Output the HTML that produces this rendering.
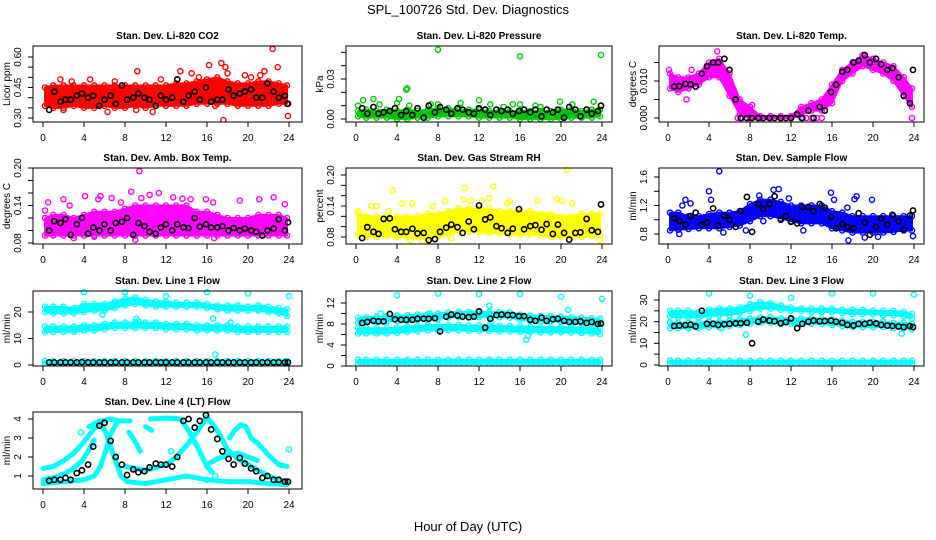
<!DOCTYPE html>
<html><head><meta charset="utf-8">
<style>
html,body{margin:0;padding:0;background:#fff;}
svg{display:block;font-family:"Liberation Sans",Arial,sans-serif;}
</style></head>
<body>
<svg id="chart" width="936" height="540" viewBox="0 0 936 540" xmlns="http://www.w3.org/2000/svg">
<defs id="defs"></defs>
<text x="468" y="14" text-anchor="middle" font-size="13">SPL_100726  Std. Dev. Diagnostics</text>
<text x="468" y="531" text-anchor="middle" font-size="13">Hour of Day (UTC)</text>
</svg>
<script>
// ---- shared data ----
const bandHours = [0.2,1,2,3,4,5,6,7,8,9,10,11,12,13,14,15,16,17,18,19,20,21,22,23,23.8];
const blackHours = [0.6,1.1,1.7,2.2,2.7,3.3,3.8,4.4,4.9,5.5,6.0,6.6,7.1,7.7,8.2,8.8,9.3,9.9,10.4,11.0,11.5,12.0,12.6,13.1,13.7,14.2,14.8,15.3,15.9,16.4,17.0,17.5,18.1,18.6,19.2,19.7,20.3,20.8,21.4,21.9,22.5,23.0,23.6,23.9];
const xTicks = [0,4,8,12,16,20,24];

// CO2
const co2Lo = [0.36,0.35,0.35,0.36,0.35,0.35,0.36,0.35,0.35,0.36,0.35,0.36,0.36,0.36,0.36,0.37,0.37,0.37,0.37,0.36,0.36,0.36,0.36,0.37,0.37];
const co2Hi = [0.45,0.46,0.46,0.46,0.46,0.46,0.46,0.46,0.46,0.46,0.46,0.46,0.46,0.47,0.47,0.48,0.49,0.50,0.48,0.47,0.47,0.48,0.48,0.47,0.46];
const co2Pts = [[0.5,0.38],[1.7,0.49],[2.8,0.48],[4.6,0.49],[6.3,0.33],[7.0,0.48],[9.2,0.53],[9.1,0.34],[11.5,0.49],[13.4,0.53],[14.5,0.52],[15.2,0.50],[16.2,0.56],[17.4,0.57],[17.6,0.29],[17.8,0.55],[18.0,0.52],[19.7,0.51],[20.3,0.50],[21.2,0.51],[21.6,0.53],[22.4,0.64],[22.9,0.55],[23.9,0.31],[16.8,0.36],[10.7,0.33],[2.0,0.34]];
const co2Black = [0.34,0.43,0.38,0.39,0.39,0.41,0.42,0.40,0.41,0.36,0.39,0.41,0.37,0.46,0.39,0.40,0.42,0.40,0.39,0.36,0.41,0.39,0.40,0.49,0.38,0.41,0.43,0.39,0.45,0.38,0.39,0.39,0.44,0.41,0.42,0.43,0.44,0.40,0.40,0.47,0.43,0.40,0.41,0.37];
const co2YTicks = [0.30,0.35,0.40,0.45,0.50,0.55,0.60];
const co2YLabels = ["0.30","","","0.45","","","0.60"];

// Pressure
const presLo = [0.002,0.001,0.001,0.001,0,0,0.001,0.001,0.002,0.002,0.002,0.002,0.001,0.001,0.001,0.001,0,0,0,0,0,0.001,0.001,0.001,0.002];
const presHi = [0.006,0.007,0.006,0.007,0.006,0.007,0.006,0.007,0.008,0.008,0.007,0.007,0.007,0.006,0.006,0.006,0.006,0.006,0.006,0.006,0.007,0.007,0.006,0.007,0.007];
const presPts = [[0.2,0.010],[0.7,0.014],[1.7,0.015],[2.3,0.011],[4.0,0.012],[4.2,0.015],[4.9,0.022],[5.0,0.023],[5.2,0.010],[7.3,0.011],[8.0,0.052],[8.0,0.011],[10.2,0.012],[12.0,0.014],[13.1,0.011],[14.4,0.009],[15.3,0.011],[16.0,0.047],[16.0,0.011],[17.5,0.010],[18.0,0.009],[19.9,0.013],[21.1,0.011],[23.2,0.013],[23.9,0.048]];
const presBlack = [0.008,0.004,0.009,0.004,0.005,0.006,0.008,0.003,0.006,0.003,0.008,0.001,0.010,0.005,0.009,0.007,0.004,0.008,0.007,0.005,0.004,0.008,0.007,0.003,0.007,0.006,0.007,0.004,0.006,0.007,0.005,0.007,0.002,0.007,0.005,0.007,0.001,0.009,0.007,0.002,0.007,0.004,0.006,0.010];
const presYTicks = [0,0.01,0.02,0.03,0.04,0.05];
const presYLabels = ["0.00","","","0.03","",""];

// Li-820 Temp
const tempLo = [0.008,0.007,0.008,0.009,0.011,0.011,0.006,0.001,0,0,0,0,0,0.001,0.002,0.002,0.004,0.010,0.012,0.014,0.013,0.012,0.010,0.006,0.003];
const tempHi = [0.012,0.011,0.011,0.012,0.015,0.016,0.012,0.005,0.003,0.0005,0.0005,0.0005,0.0005,0.003,0.004,0.005,0.009,0.013,0.015,0.017,0.016,0.015,0.014,0.011,0.008];
const tempPts = [[13,0],[13.5,0],[14,0],[14.5,0],[15,0],[6.8,0],[7.2,0],[23.8,0],[1.8,0.005],[2.3,0.013],[8.2,0.0035],[4.8,0.018],[0.1,0.013]];
const tempBlack = [0.0085,0.0086,0.0092,0.0091,0.0085,0.012,0.014,0.015,0.015,0.016,0.013,0.005,0,0,0,0,0,0,0,0,0,0,0.001,0,0.002,0,0.003,0.002,0.007,0.009,0.0125,0.013,0.015,0.0155,0.017,0.015,0.016,0.0145,0.013,0.0135,0.011,0.006,0.004,0.013];
const tempYTicks = [0,0.005,0.010,0.015];
const tempYLabels = ["0.000","","0.010",""];

// Amb box temp
const ambLo = [0.092,0.092,0.092,0.092,0.092,0.092,0.092,0.092,0.092,0.092,0.092,0.092,0.092,0.092,0.092,0.092,0.092,0.092,0.092,0.092,0.092,0.092,0.092,0.092,0.092];
const ambHi = [0.12,0.125,0.125,0.12,0.125,0.13,0.13,0.13,0.135,0.14,0.14,0.14,0.14,0.14,0.14,0.13,0.13,0.125,0.12,0.12,0.12,0.125,0.125,0.125,0.12];
const ambPts = [[0.5,0.145],[0.2,0.132],[2.0,0.15],[2.6,0.14],[4.1,0.155],[5.4,0.15],[5.6,0.155],[6.7,0.152],[7.6,0.145],[8.6,0.162],[9.0,0.085],[9.4,0.195],[9.6,0.152],[10.4,0.157],[11.3,0.16],[12.7,0.153],[13.6,0.151],[14.4,0.15],[15.9,0.15],[16.6,0.145],[16.7,0.088],[19.2,0.148],[21.1,0.15],[22.5,0.153],[23.6,0.142],[3.0,0.088],[5.0,0.09]];
const ambBlack = [0.10,0.115,0.112,0.118,0.093,0.11,0.12,0.095,0.105,0.10,0.11,0.1,0.112,0.114,0.12,0.093,0.112,0.107,0.098,0.095,0.105,0.11,0.1,0.11,0.105,0.104,0.12,0.106,0.11,0.105,0.105,0.107,0.1,0.104,0.1,0.103,0.1,0.098,0.092,0.1,0.103,0.118,0.1,0.113];
const ambYTicks = [0.08,0.10,0.12,0.14,0.16,0.18,0.20];
const ambYLabels = ["0.08","","","0.14","","","0.20"];

// Gas stream RH
const rhLo = [0.085,0.08,0.08,0.082,0.08,0.08,0.08,0.078,0.08,0.085,0.09,0.09,0.09,0.088,0.087,0.085,0.085,0.085,0.083,0.08,0.08,0.08,0.08,0.082,0.085];
const rhHi = [0.125,0.12,0.12,0.12,0.12,0.12,0.12,0.125,0.125,0.13,0.135,0.135,0.135,0.135,0.13,0.13,0.13,0.13,0.125,0.125,0.12,0.12,0.125,0.125,0.125];
const rhPts = [[0.2,0.13],[1.5,0.14],[2.0,0.14],[3.2,0.13],[3.6,0.17],[4.5,0.145],[5.5,0.145],[7.5,0.14],[8.7,0.15],[10.6,0.175],[10.5,0.153],[11.2,0.15],[12.3,0.15],[13.0,0.155],[13.4,0.178],[14.8,0.145],[15.0,0.15],[17.7,0.15],[19.6,0.153],[20.1,0.15],[20.6,0.21],[21.1,0.145],[5.3,0.074],[6.5,0.072],[9.3,0.078],[23.8,0.074]];
const rhBlack = [0.078,0.099,0.09,0.086,0.115,0.116,0.095,0.09,0.09,0.096,0.087,0.088,0.074,0.076,0.09,0.098,0.104,0.099,0.088,0.11,0.095,0.141,0.114,0.118,0.101,0.097,0.088,0.096,0.134,0.095,0.101,0.103,0.094,0.105,0.086,0.104,0.088,0.075,0.088,0.089,0.115,0.093,0.09,0.143];
const rhYTicks = [0.08,0.10,0.12,0.14,0.16,0.18,0.20];
const rhYLabels = ["0.08","","","0.14","","","0.20"];

// Sample flow
const sfLo = [0.85,0.86,0.87,0.88,0.88,0.88,0.9,0.92,0.98,1.05,1.05,1.02,0.98,0.95,0.95,0.95,0.88,0.85,0.82,0.82,0.82,0.82,0.83,0.85,0.85];
const sfHi = [1.1,1.1,1.05,1.05,1.08,1.1,1.1,1.12,1.22,1.28,1.28,1.25,1.2,1.2,1.2,1.2,1.12,1.1,1.05,1.05,1.05,1.05,1.05,1.05,1.05];
const sfPts = [[1.1,0.80],[1.4,1.2],[1.7,1.28],[2.2,1.23],[4.0,1.4],[4.2,1.28],[5.0,1.68],[5.4,0.82],[7.6,0.85],[8.9,1.34],[9.3,0.98],[10.3,1.42],[10.8,1.43],[11.8,1.3],[13.2,0.85],[15.9,1.38],[16.2,1.28],[17.6,0.71],[17.5,1.17],[18.4,1.33],[18.2,1.29],[19.2,0.75],[19.9,1.28],[20.5,0.76],[23.9,0.77]];
const sfBlack = [1.02,0.98,0.93,1.05,1.1,0.93,0.96,1.16,0.92,1.06,1.0,0.9,1.12,1.32,0.83,1.22,1.15,1.22,1.33,1.0,1.05,0.97,0.95,1.18,1.18,1.12,1.22,1.17,1.04,0.88,0.94,0.9,0.88,1.09,0.96,0.79,0.9,1.02,0.93,1.07,0.98,0.86,1.06,1.13];
const sfYTicks = [0.8,1.0,1.2,1.4,1.6];
const sfYLabels = ["0.8","","1.2","","1.6"];

// Line 1 flow
const l1TopLo = [20,19.5,19.5,19.5,20,20.5,20.5,21.5,22.5,23,22.5,22,22,22,22,22,21.5,21,20.5,20.5,20.5,20.5,20,19.5,18.5];
const l1TopHi = [22,22,22,21.5,23,23,23,24,25,25.5,24.5,24,24,23.5,23.5,23.5,23,22.5,22.5,22.5,22,22.5,22,21.5,21];
const l1MidLo = [12.5,12.5,12.5,12.5,13,13,13.5,14,14,14,14,14,13.5,13.5,13.5,13,13,13,13,12.5,12.5,12.5,12.5,12.5,12.5];
const l1MidHi = [14.5,14.5,14.5,14.5,15,15,15.5,16,16,16,16,16,15.5,15.5,15.5,15,15,15,15,14.5,14.5,14.5,14.5,14.5,14.5];
const l1BotLo = [0.3,0.3,0.3,0.3,0.3,0.3,0.3,0.3,0.3,0.3,0.3,0.3,0.3,0.3,0.3,0.3,0.3,0.3,0.3,0.3,0.3,0.3,0.3,0.3,0.3];
const l1BotHi = [1.5,1.5,1.5,1.5,1.5,1.5,1.5,1.5,1.5,1.5,1.5,1.5,1.5,1.5,1.5,1.5,1.5,1.5,1.5,1.5,1.5,1.5,1.5,1.5,1.5];
const l1Pts = [[4,27.5],[8,27.5],[12,26],[16,27.5],[20,27],[24,26],[9.1,17.5],[9.3,16.5],[5.8,19],[16.6,17.5],[18.3,16],[16.8,4]];
const l1Black = [1,1,1,1,1,1,1.1,1,1,1,1,1,1,1,1,1,1,1,1,1,1,1,1,1,1,1,1,1,1,1,1,1,1,1,1,1,1,1,1,1,1,1,1,1];
const l1YTicks = [0,10,20];
const l1YLabels = ["0","10","20"];

// Line 2 flow
const l2TopLo = [8.2,8.3,8.4,8.5,8.6,8.7,8.8,8.9,9.0,9.2,9.3,9.3,9.3,9.3,9.3,9.2,8.8,8.6,8.5,8.5,8.4,8.3,8.2,8.1,8.0];
const l2TopHi = [9.2,9.3,9.4,9.5,9.6,9.7,9.8,9.9,10.0,10.2,10.3,10.3,10.3,10.3,10.3,10.2,9.8,9.6,9.5,9.5,9.4,9.3,9.2,9.1,9.0];
const l2MidLo = [6.2,6.2,6.2,6.2,6.3,6.5,6.6,6.8,6.8,6.8,6.8,6.7,6.7,6.7,6.6,6.6,6.5,6.5,6.4,6.4,6.4,6.4,6.3,6.2,6.1];
const l2MidHi = [7.2,7.2,7.2,7.2,7.3,7.5,7.6,7.8,7.8,7.8,7.8,7.7,7.7,7.7,7.6,7.6,7.5,7.5,7.4,7.4,7.4,7.4,7.3,7.2,7.1];
const l2BotLo = [0.4,0.4,0.4,0.4,0.4,0.4,0.4,0.4,0.4,0.4,0.4,0.4,0.4,0.4,0.4,0.4,0.4,0.4,0.4,0.4,0.4,0.4,0.4,0.4,0.4];
const l2BotHi = [1.2,1.2,1.2,1.2,1.2,1.2,1.2,1.2,1.2,1.2,1.2,1.2,1.2,1.2,1.2,1.2,1.2,1.2,1.2,1.2,1.2,1.2,1.2,1.2,1.2];
const l2Pts = [[4,13.5],[8,13.8],[12,13.7],[16,13.7],[20,13.2],[24,12.8],[2.4,10],[13,11.5],[20.7,10.7],[16.6,5],[16.8,5.8],[7.2,10],[13.2,8.5]];
const l2Black = [8.2,8.4,8.6,8.5,8.5,9.9,8.9,8.8,8.8,8.8,9.0,9.0,9.0,9.1,6.6,9.4,9.8,9.6,9.4,9.3,9.4,10.4,7.3,9.0,9.7,9.8,9.7,9.7,9.5,9.5,8.8,8.6,9.2,8.6,8.9,9.0,8.6,8.4,8.4,8.5,8.2,8.4,8.0,8.1];
const l2YTicks = [0,2,4,6,8,10,12];
const l2YLabels = ["0","","4","","8","","12"];

// Line 3 flow
const l3TopLo = [22.5,22,22,22,22.5,23,23,24,25,26,26,25.5,25,25,24.5,24.5,24.5,24,23.5,23.5,23.5,23,23,22.5,21.5];
const l3TopHi = [25,25,25,24.5,25.5,26,26,26.5,28,29,28.5,27.5,26.5,26,26,26,26,25.5,25.5,25.5,25,25,25,24.5,23.5];
const l3MidLo = [17,17,17,17,17.5,17.5,18,18.5,19,19.5,19.5,19,19,19,19,19,18.5,18,17.5,17.5,17.5,17.5,17,17,16.5];
const l3MidHi = [19.5,19.5,19.5,19.5,20,20,20.5,21,21.5,22,22,21.5,21.5,21.5,21.5,21.5,21,20.5,20,20,20,20,19.5,19.5,19];
const l3BotLo = [0.5,0.5,0.5,0.5,0.5,0.5,0.5,0.5,0.5,0.5,0.5,0.5,0.5,0.5,0.5,0.5,0.5,0.5,0.5,0.5,0.5,0.5,0.5,0.5,0.5];
const l3BotHi = [2,2,2,2,2,2,2,2,2,2,2,2,2,2,2,2,2,2,2,2,2,2,2,2,2];
const l3Pts = [[4,33],[8,32],[12,31],[16,33],[20,33],[24,32.5],[7.6,14],[22.8,14.5],[5.2,17]];
const l3Black = [18,18.2,18.4,18.6,17.8,25,19,19,18.5,18.8,19,19.2,19.3,19.5,10,20,21,20.5,20.2,19.3,19.8,21.5,17,19,20,20.5,20.2,20.3,20.5,20,19.5,18.5,18.2,19,19,19.5,19.2,18.5,18.2,18,17.8,17.5,18,17.5];
const l3YTicks = [0,5,10,15,20,25,30];
const l3YLabels = ["0","","10","","20","","30"];

// Line 4 (LT) flow - curves of [hour, value]
const l4Curve1 = [[0,1.4],[1,1.5],[2,1.8],[3,2.2],[4,2.8],[5,3.5],[5.8,3.9],[6.5,4.0],[7.5,3.9],[8.5,3.9]];
const l4Curve2 = [[0,0.6],[2,0.7],[4,0.8],[5,1.0],[5.6,1.5],[6.1,2.3],[6.6,3.2],[7.2,3.8]];
const l4Curve3 = [[4.5,3.6],[5.5,3.9],[6.2,3.2],[7,1.9],[7.6,1.0],[8.2,0.7],[10,0.6],[12,0.8],[14,1.0],[16,0.8],[18,0.7],[20,0.7],[22,0.6],[23.8,0.55]];
const l4Curve4 = [[0,0.8],[1,0.9],[2,1.1],[3,1.4],[3.8,1.8],[4.5,2.4],[5,2.9]];
const l4Curve5 = [[8.4,3.3],[9,2.8],[9.5,2.3]];
const l4Curve6 = [[10,3.6],[10.6,3.4]];
const l4Curve7 = [[10.5,4.0],[12,4.05],[13.4,4.0],[14.2,3.4],[15,2.6],[16,1.5],[16.5,1.2]];
const l4Curve8 = [[8,1.5],[10,1.3],[12,1.6],[13,2.0],[14,2.6],[15,3.3],[16,4.1],[17,3.4],[18,2.4],[19,1.9],[20,1.6],[21,1.3],[22,1.0],[23,0.8],[23.8,0.7]];
const l4Curve9 = [[18.2,3.0],[18.7,3.4],[19.3,3.7],[19.8,3.6],[20.3,3.0],[21,2.7],[22,2.1],[23,1.6],[23.8,1.5]];
const l4Curve10 = [[16,1.6],[17,1.9],[18,2.1],[19,2.2],[20,2.0],[21,1.8]];
const l4Pts = [[24,2.4],[16,0.8],[12.5,2.3],[16.8,1.0],[3.7,3.3]];
const l4Black = [0.75,0.8,0.8,0.9,0.8,1.15,1.3,1.6,2.55,3.65,3.8,2.85,2.0,1.6,1.05,1.35,1.2,1.25,1.45,1.65,1.6,1.6,1.5,2.0,3.9,4.0,3.55,3.9,4.2,3.45,2.95,2.3,1.9,1.6,1.95,1.65,1.4,1.25,0.9,1.0,0.8,0.8,0.7,0.7];
const l4YTicks = [1,2,3,4];
const l4YLabels = ["1","2","3","4"];

const NS = "http://www.w3.org/2000/svg";
const svg = document.getElementById('chart');
const defs = document.getElementById('defs');
function mk(tag, attrs, parent){
  const e = document.createElementNS(NS, tag);
  for (const k in attrs) e.setAttribute(k, attrs[k]);
  (parent||svg).appendChild(e);
  return e;
}
const patterns = {};
function patternFor(color){
  if (patterns[color]) return patterns[color];
  const id = 'pat' + Object.keys(patterns).length;
  const p = mk('pattern', {id: id, width: 5, height: 4, patternUnits: 'userSpaceOnUse'}, defs);
  mk('rect', {x:0,y:0,width:5,height:4,fill:color,'fill-opacity':0.85}, p);
  mk('circle', {cx:0,cy:0,r:2.2,fill:'none',stroke:color,'stroke-width':1.3}, p);
  mk('circle', {cx:5,cy:0,r:2.2,fill:'none',stroke:color,'stroke-width':1.3}, p);
  mk('circle', {cx:0,cy:4,r:2.2,fill:'none',stroke:color,'stroke-width':1.3}, p);
  mk('circle', {cx:5,cy:4,r:2.2,fill:'none',stroke:color,'stroke-width':1.3}, p);
  mk('circle', {cx:2.5,cy:2,r:2.2,fill:'none',stroke:color,'stroke-width':1.3}, p);
  patterns[color] = 'url(#' + id + ')';
  return patterns[color];
}

const colBox = [[33,302,43,289],[346,612,356,602],[659,924,668,914]];
const rowBox = [[46,122],[168,244],[291,366],[412,489]];

function panel(o){
  const [bx0,bx1,px0,px24] = colBox[o.col];
  const [by0,by1] = rowBox[o.row];
  const xS = h => px0 + (px24-px0)*h/24;
  const yS = v => o.p1 + (o.p2-o.p1)*(v-o.v1)/(o.v2-o.v1);
  const g = mk('g', {});
  
  
  const clipId = 'clip-' + o.name;
  const cp = mk('clipPath', {id: clipId}, g);
  mk('rect', {x: bx0, y: by0-4, width: bx1-bx0+4, height: by1-by0+4}, cp);
  const plot = mk('g', {'clip-path': 'url(#'+clipId+')'}, g);
  
  
  const fillPat = patternFor(o.fill||o.color);
  (o.bands||[]).forEach(b => {
    let pts = [];
    for (let i=0;i<bandHours.length;i++) pts.push(xS(bandHours[i])+','+yS(b[0][i]));
    for (let i=bandHours.length-1;i>=0;i--) pts.push(xS(bandHours[i])+','+yS(b[1][i]));
    const p = mk('polygon', {points: pts.join(' '), fill: fillPat, stroke: o.color, 'stroke-width': 2, 'stroke-linejoin': 'round'}, plot);
    
    
    for (let i=0;i<bandHours.length;i++){
      [b[0][i], b[1][i]].forEach(v => {
        const c = mk('circle', {cx: xS(bandHours[i]), cy: yS(v), r: 2.6, fill: 'none', stroke: o.color, 'stroke-width': 1.4}, plot);
        
        
      });
    }
  });
  (o.curves||[]).forEach(cv => {
    const pts = cv.map(p => xS(p[0])+','+yS(p[1])).join(' ');
    const l = mk('polyline', {points: pts, fill: 'none', stroke: o.color, 'stroke-width': 5, 'stroke-linejoin': 'round', 'stroke-linecap': 'round', 'stroke-dasharray': '4 1'}, plot);
    
    
  });
  (o.pts||[]).forEach(p => {
    const c = mk('circle', {cx: xS(p[0]), cy: yS(p[1]), r: 2.6, fill: 'none', stroke: o.color, 'stroke-width': 1.4}, plot);
    
    
  });
  o.black.forEach((v,i) => {
    const c = mk('circle', {cx: xS(blackHours[i]), cy: yS(v), r: 2.6, fill: 'none', stroke: '#000', 'stroke-width': 1.6}, plot);
    
    
  });
  const box = mk('rect', {x: bx0, y: by0, width: bx1-bx0, height: by1-by0, fill: 'none', stroke: '#000', 'stroke-width': 1}, g);
  
  
  xTicks.forEach(t => {
    mk('line', {x1: xS(t), x2: xS(t), y1: by1, y2: by1+5, stroke: '#000'}, g);
    const tx = mk('text', {x: xS(t), y: by1+19, 'text-anchor': 'middle', 'font-size': 10}, g);
    tx.textContent = t;
    
    
  });
  o.yTicks.forEach((t,i) => {
    const y = yS(t);
    mk('line', {x1: bx0-5, x2: bx0, y1: y, y2: y, stroke: '#000'}, g);
    if (o.yLabels[i]) {
      const tx = mk('text', {x: 0, y: 0, 'text-anchor': 'middle', 'font-size': 10, transform: 'translate('+(bx0-12)+','+y+') rotate(-90)'}, g);
      tx.textContent = o.yLabels[i];
      
      
    }
  });
  const yt = mk('text', {x: 0, y: 0, 'text-anchor': 'middle', 'font-size': 10, transform: 'translate('+(bx0-23)+','+((by0+by1)/2)+') rotate(-90)'}, g);
  yt.textContent = o.ylab;
  
  
  const tt = mk('text', {x: (bx0+bx1)/2, y: by0-7, 'text-anchor': 'middle', 'font-size': 10, 'font-weight': 'bold'}, g);
  tt.textContent = o.title;
  
  
}

panel({name:'co2', col:0,row:0,title:'Stan. Dev. Li-820 CO2',ylab:'Licor ppm',color:'#ff0000',v1:0.30,p1:118,v2:0.60,p2:57,yTicks:co2YTicks,yLabels:co2YLabels,bands:[[co2Lo,co2Hi]],pts:co2Pts,black:co2Black});
panel({name:'pressure', col:1,row:0,title:'Stan. Dev. Li-820 Pressure',ylab:'kPa',color:'#00cd00',fill:'#00c000',v1:0,p1:119,v2:0.03,p2:79,yTicks:presYTicks,yLabels:presYLabels,bands:[[presLo,presHi]],pts:presPts,black:presBlack});
panel({name:'li820-temp', col:2,row:0,title:'Stan. Dev. Li-820 Temp.',ylab:'degrees C',color:'#ff00ff',v1:0,p1:118,v2:0.010,p2:81,yTicks:tempYTicks,yLabels:tempYLabels,bands:[[tempLo,tempHi]],pts:tempPts,black:tempBlack});
panel({name:'amb-box-temp', col:0,row:1,title:'Stan. Dev. Amb. Box Temp.',ylab:'degrees C',color:'#ff00ff',v1:0.08,p1:243,v2:0.20,p2:168,yTicks:ambYTicks,yLabels:ambYLabels,bands:[[ambLo,ambHi]],pts:ambPts,black:ambBlack});
panel({name:'gas-rh', col:1,row:1,title:'Stan. Dev. Gas Stream RH',ylab:'percent',color:'#ffff00',v1:0.08,p1:237,v2:0.20,p2:175,yTicks:rhYTicks,yLabels:rhYLabels,bands:[[rhLo,rhHi]],pts:rhPts,black:rhBlack});
panel({name:'sample-flow', col:2,row:1,title:'Stan. Dev. Sample Flow',ylab:'ml/min',color:'#0000ff',v1:0.8,p1:234,v2:1.6,p2:177,yTicks:sfYTicks,yLabels:sfYLabels,bands:[[sfLo,sfHi]],pts:sfPts,black:sfBlack});
panel({name:'line1-flow', col:0,row:2,title:'Stan. Dev. Line 1 Flow',ylab:'ml/min',color:'#00ffff',v1:0,p1:365,v2:20,p2:312,yTicks:l1YTicks,yLabels:l1YLabels,bands:[[l1TopLo,l1TopHi],[l1MidLo,l1MidHi],[l1BotLo,l1BotHi]],pts:l1Pts,black:l1Black});
panel({name:'line2-flow', col:1,row:2,title:'Stan. Dev. Line 2 Flow',ylab:'ml/min',color:'#00ffff',v1:0,p1:366,v2:12,p2:303,yTicks:l2YTicks,yLabels:l2YLabels,bands:[[l2TopLo,l2TopHi],[l2MidLo,l2MidHi],[l2BotLo,l2BotHi]],pts:l2Pts,black:l2Black});
panel({name:'line3-flow', col:2,row:2,title:'Stan. Dev. Line 3 Flow',ylab:'ml/min',color:'#00ffff',v1:0,p1:365,v2:30,p2:300,yTicks:l3YTicks,yLabels:l3YLabels,bands:[[l3TopLo,l3TopHi],[l3MidLo,l3MidHi],[l3BotLo,l3BotHi]],pts:l3Pts,black:l3Black});
panel({name:'line4-flow', col:0,row:3,title:'Stan. Dev. Line 4 (LT) Flow',ylab:'ml/min',color:'#00ffff',v1:1,p1:476,v2:4,p2:419,yTicks:l4YTicks,yLabels:l4YLabels,curves:[l4Curve1,l4Curve2,l4Curve3,l4Curve4,l4Curve5,l4Curve6,l4Curve7,l4Curve8,l4Curve9,l4Curve10],pts:l4Pts,black:l4Black});
</script>
</body></html>
